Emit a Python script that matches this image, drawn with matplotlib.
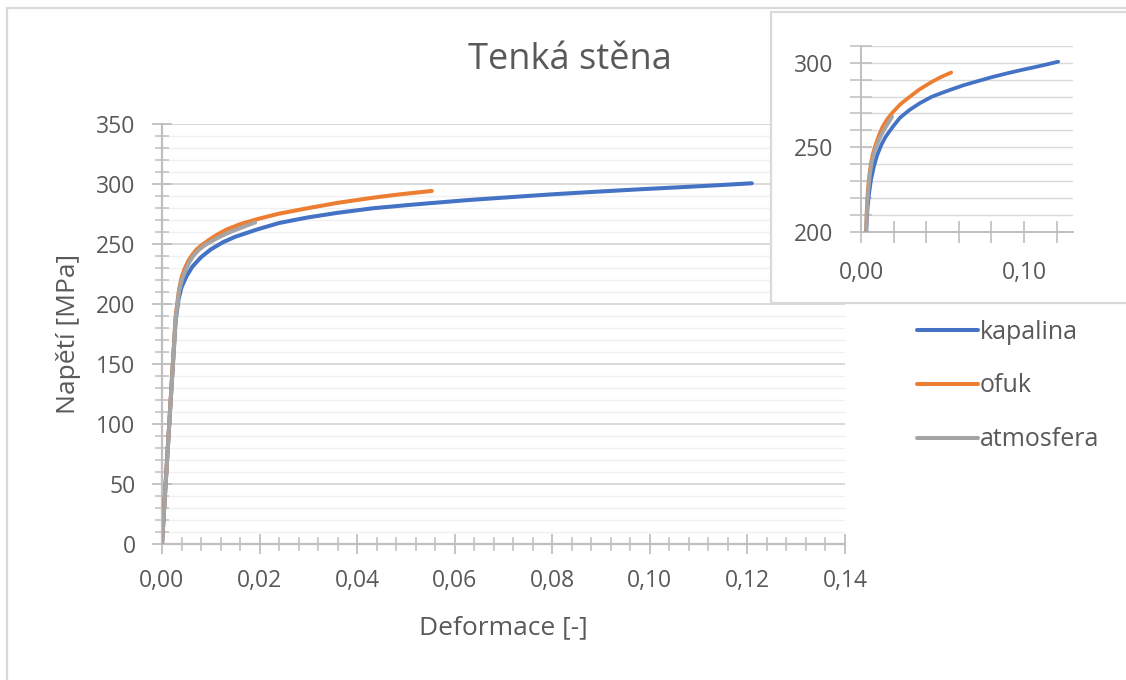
import matplotlib
matplotlib.use("Agg")
import matplotlib.pyplot as plt
from matplotlib.ticker import MultipleLocator, FuncFormatter
from matplotlib.patches import Rectangle

plt.rcParams['font.family'] = ['Open Sans', 'DejaVu Sans']

# ---------------- data ----------------
title = "Tenká stěna"
xlabel = "Deformace [-]"
ylabel = "Napětí [MPa]"
series_names = ["kapalina", "ofuk", "atmosfera"]

kapalina_x = [0.0, 0.0010, 0.0020, 0.0028, 0.0034, 0.0040, 0.0050, 0.0062, 0.0080,
              0.0100, 0.0125, 0.0150, 0.0194, 0.0240, 0.0297, 0.0360, 0.0433,
              0.0500, 0.0549, 0.0630, 0.0720, 0.0800, 0.0891, 0.0980, 0.1062,
              0.1140, 0.1209]
kapalina_y = [0.0, 67.0, 134.0, 186.0, 204.0, 214.0, 223.0, 231.0, 239.0,
              245.5, 251.5, 256.0, 262.0, 267.5, 272.0, 276.0, 279.8,
              282.3, 284.0, 286.7, 289.2, 291.4, 293.6, 295.6, 297.3,
              299.0, 300.6]

ofuk_x = [0.0, 0.0010, 0.0020, 0.0028, 0.0035, 0.0040, 0.0046, 0.0054, 0.0063,
          0.0071, 0.0083, 0.0095, 0.0112, 0.0132, 0.0160, 0.0194, 0.0240,
          0.0297, 0.0360, 0.0433, 0.0490, 0.0553]
ofuk_y = [0.0, 68.0, 136.0, 190.0, 212.0, 222.0, 229.0, 236.0, 241.5,
          245.5, 249.5, 253.0, 257.5, 262.0, 266.5, 270.6, 275.3,
          279.7, 284.3, 288.6, 291.5, 294.2]

atmosfera_x = [0.0, 0.0010, 0.0020, 0.0028, 0.0035, 0.0041, 0.0048, 0.0056, 0.0065,
               0.0074, 0.0086, 0.0100, 0.0120, 0.0140, 0.0165, 0.0191]
atmosfera_y = [0.0, 67.0, 134.0, 188.0, 211.0, 220.5, 228.0, 235.0, 240.5,
               244.5, 248.5, 252.0, 256.3, 260.0, 264.0, 268.0]

colors = ["#4472C4", "#ED7D31", "#A5A5A5"]

# ---------------- figure ----------------
W, H = 1126, 680
fig = plt.figure(figsize=(W / 100, H / 100), dpi=100)
TXT = "#595959"
AX = "#BFBFBF"
GRID_MAJ = "#D9D9D9"
GRID_MIN = "#F0F0F0"


def fx(px):
    return px / W


def fy(py):
    return 1 - py / H


# outer chart frame
fig.patches.append(Rectangle((fx(7), -0.2), 1.5, fy(8) + 0.2, transform=fig.transFigure,
                             fill=False, edgecolor="#D9D9D9", lw=1.6, zorder=0))

comma = FuncFormatter(lambda v, p: f"{v:.2f}".replace('.', ','))
intfmt = FuncFormatter(lambda v, p: f"{v:.0f}")

# main axes
ax = fig.add_axes([fx(162), fy(544), fx(845) - fx(162), fy(124) - fy(544)])
xs = [kapalina_x, ofuk_x, atmosfera_x]
ys = [kapalina_y, ofuk_y, atmosfera_y]
handles = []
for x, y, c, n in zip(xs, ys, colors, series_names):
    h, = ax.plot(x, y, color=c, lw=2.9, solid_capstyle='round', solid_joinstyle='round',
                 label=n, zorder=3)
    handles.append(h)

ax.set_xlim(0, 0.14)
ax.set_ylim(0, 350)
ax.xaxis.set_major_locator(MultipleLocator(0.02))
ax.xaxis.set_minor_locator(MultipleLocator(0.004))
ax.yaxis.set_major_locator(MultipleLocator(50))
ax.yaxis.set_minor_locator(MultipleLocator(10))
ax.xaxis.set_major_formatter(comma)
ax.yaxis.set_major_formatter(intfmt)
ax.grid(True, which='major', axis='y', color=GRID_MAJ, lw=1.4, zorder=0)
ax.grid(True, which='minor', axis='y', color=GRID_MIN, lw=1.0, zorder=0)
for s in ['top', 'right']:
    ax.spines[s].set_visible(False)
for s in ['left', 'bottom']:
    ax.spines[s].set_color(AX)
    ax.spines[s].set_linewidth(1.6)
ax.tick_params(axis='both', which='major', direction='inout', length=14, width=1.3, color=AX,
               labelsize=16.5, labelcolor=TXT)
ax.tick_params(axis='both', which='minor', direction='inout', length=10, width=1.1, color=AX)
ax.tick_params(axis='y', which='major', pad=12)
ax.tick_params(axis='x', which='major', pad=11)
ax.set_axisbelow(True)
ax.set_xlabel(xlabel, fontsize=19, color=TXT, labelpad=16)
ax.set_ylabel(ylabel, fontsize=19, color=TXT, labelpad=11)

fig.text(fx(570), fy(60), title, fontsize=26, color=TXT, ha='center', va='center')

ax.legend(handles=handles, labels=series_names, loc='center left',
          bbox_to_anchor=(fx(904), fy(386)), bbox_transform=fig.transFigure,
          frameon=False, fontsize=18, handlelength=2.45, handletextpad=0.08,
          labelspacing=1.15, borderpad=0, labelcolor=TXT)

# inset frame
fig.patches.append(Rectangle((fx(771), fy(303)), 1.0, fy(12) - fy(303), transform=fig.transFigure,
                             facecolor="white", edgecolor="#D9D9D9", lw=1.6, zorder=5))

axi = fig.add_axes([fx(861), fy(231.7), fx(1073) - fx(861), fy(45.8) - fy(231.7)], zorder=6)
axi.patch.set_alpha(0)
for x, y, c in zip(xs, ys, colors):
    axi.plot(x, y, color=c, lw=2.7, solid_capstyle='round', solid_joinstyle='round', zorder=3)
axi.set_xlim(0, 0.13)
axi.set_ylim(200, 310)
axi.xaxis.set_major_locator(MultipleLocator(0.02))
axi.xaxis.set_major_formatter(FuncFormatter(
    lambda v, p: f"{v:.2f}".replace('.', ',') if abs(v) < 1e-9 or abs(v - 0.10) < 1e-9 else ""))
axi.yaxis.set_major_locator(MultipleLocator(50))
axi.yaxis.set_minor_locator(MultipleLocator(10))
axi.yaxis.set_major_formatter(intfmt)
axi.grid(True, which='both', axis='y', color=GRID_MAJ, lw=1.0, zorder=0)
for s in ['top', 'right']:
    axi.spines[s].set_visible(False)
for s in ['left', 'bottom']:
    axi.spines[s].set_color(AX)
    axi.spines[s].set_linewidth(1.4)
axi.tick_params(axis='both', which='major', direction='inout', length=16, width=1.2, color=AX,
                labelsize=16.5, labelcolor=TXT)
axi.tick_params(axis='both', which='minor', direction='inout', length=16, width=1.1, color=AX)
axi.tick_params(axis='y', which='major', pad=12)
axi.tick_params(axis='x', which='major', pad=13)
axi.set_axisbelow(True)

fig.savefig("out.png", dpi=100)
